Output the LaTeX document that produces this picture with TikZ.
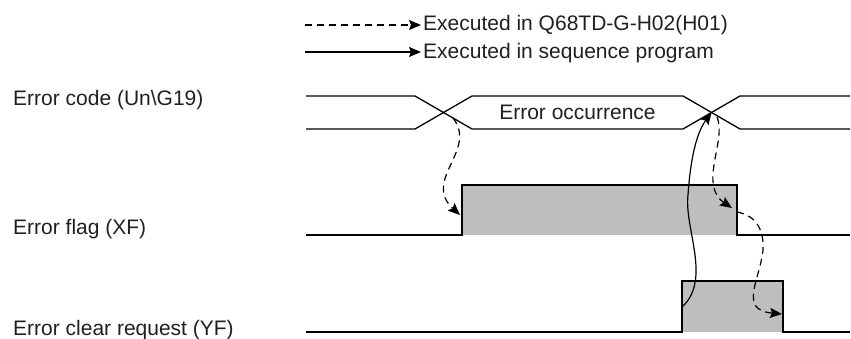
\documentclass[tikz,border=0pt]{standalone}
\usepackage{fontspec}
\setmainfont{Liberation Sans}
\usetikzlibrary{arrows.meta}
\definecolor{pulsegray}{RGB}{189,190,192}
\definecolor{inktext}{RGB}{35,31,32}

\begin{document}
\begin{tikzpicture}[x=1pt,y=-1pt,
    lbl/.style={anchor=base west,inner sep=0pt,text=inktext,font=\fontsize{21}{24}\selectfont},
    sig/.style={line width=1.3pt},
    dasharrow/.style={line width=1.2pt,dash pattern=on 7pt off 5pt,-{Stealth[length=12pt,width=10pt,inset=2pt]}},
    seqarrow/.style={line width=1.2pt,-{Stealth[length=12pt,width=10pt,inset=2pt]}}]
\useasboundingbox (0,0) rectangle (851,338);
% legend
\node (leg1) at (423,30)[lbl]{Executed in Q68TD-G-H02(H01)};
\node (leg2) at (423,58)[lbl]{Executed in sequence program};
\coordinate (leg1s) at (305,25);
\coordinate (leg2s) at (305,52);
\draw [dasharrow,shorten >=2pt] (leg1s)--(leg1.west |- leg1s);
\draw [seqarrow,shorten >=2pt] (leg2s)--(leg2.west |- leg2s);
% signal names
\node (code) at (13,105)[lbl]{Error code (Un\textbackslash G19)};
\node (flag) at (13,234)[lbl]{Error flag (XF)};
\node (clr) at (13,335)[lbl]{Error clear request (YF)};
% waveforms
\draw [sig] (306,96)--(415,96)--(472,129)--(683,129)--(740,96)--(850,96);
\draw [sig] (306,129)--(415,129)--(472,96)--(683,96)--(740,129)--(850,129);
\node (occ) at (577.5,112)[lbl,anchor=center]{Error occurrence};
\fill [pulsegray] (462,185) rectangle (737,235);
\draw [sig] (306,235)--(462,235)--(462,185)--(737,185)--(737,235)--(850,235);
\fill [pulsegray] (682,281) rectangle (783,332);
\draw [sig] (306,332)--(682,332)--(682,281)--(783,281)--(783,332)--(850,332);
% connectors
\coordinate (cross1) at (453,118);
\coordinate (cross2) at (711.5,112.5);
\coordinate (cross2r) at (717,117);
\coordinate (flagon) at (460,215);
\coordinate (flagoff) at (732,208);
\coordinate (flagoffs) at (737,212);
\coordinate (clron) at (682,307);
\coordinate (clroff) at (782,314);
\draw [dasharrow] (cross1) .. controls (478,150) and (422,180) .. (flagon);
\draw [seqarrow] (clron) .. controls (712,280) and (684,228) .. (688,195)
    .. controls (690,165) and (695,135) .. (cross2);
\draw [dasharrow] (cross2r) .. controls (727,140) and (698,185) .. (flagoff);
\draw [dasharrow] (flagoffs) .. controls (758,216) and (764,232) .. (763,250)
    .. controls (760,280) and (738,310) .. (clroff);
\end{tikzpicture}
\end{document}
